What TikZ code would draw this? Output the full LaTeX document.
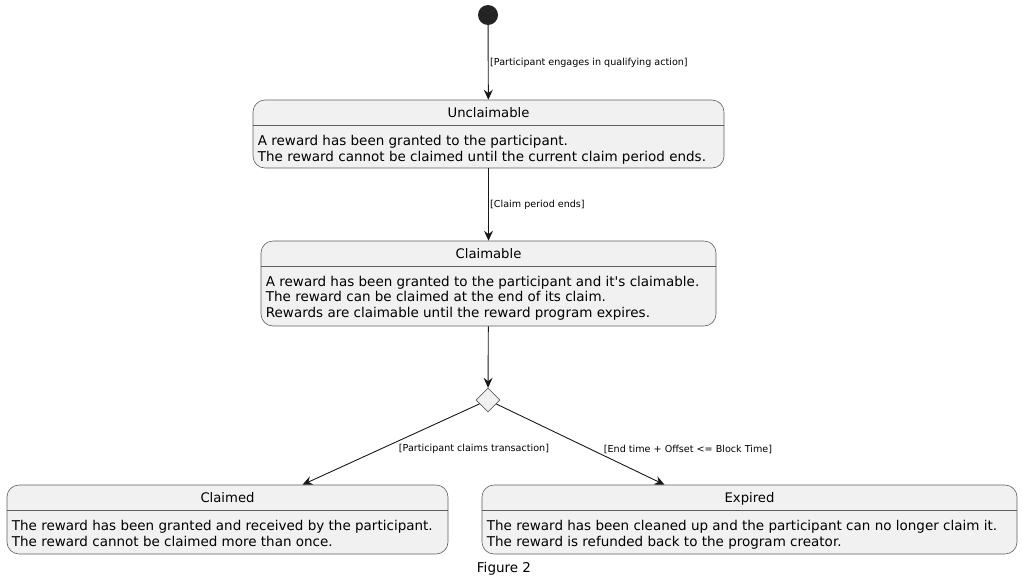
\documentclass[tikz,border=0pt]{standalone}
\usepackage{fontspec}
\setmainfont{DejaVu Sans}
\usetikzlibrary{shapes.geometric,arrows.meta}
\definecolor{statefill}{HTML}{F1F1F1}
\definecolor{stateline}{HTML}{5E5E5E}
\definecolor{arrowline}{HTML}{181818}
\begin{document}
\begin{tikzpicture}
  [x=1pt,y=-1pt,
    state/.style={draw=stateline,fill=statefill,rounded corners=12pt,inner sep=0pt,line width=0.6pt},
    title/.style={font=\fontsize{13.2}{15}\selectfont,anchor=base,inner sep=0pt},
    body/.style={font=\fontsize{13.5}{15.8}\selectfont,anchor=base west,align=left,inner sep=0pt},
    guard/.style={font=\fontsize{9.6}{11}\selectfont,inner sep=0pt},
    trans/.style={draw=arrowline,line width=0.9pt,-{Stealth[length=10pt,width=9pt,inset=3.5pt]}},
  ]
  \useasboundingbox (0,0) rectangle (1022,584);
  % start
  \node[circle,fill=arrowline!95,minimum size=20pt,inner sep=0pt] (start) at (488,15) {};
  % Unclaimable
  \node[state,minimum width=471pt,minimum height=68pt] (unc) at (488.5,134) {};
  \node[title] (unc-t) at ([yshift=-17.5pt]unc.north) {Unclaimable};
  \draw[stateline,line width=0.6pt] ([yshift=-26pt]unc.north west) -- ([yshift=-26pt]unc.north east);
  \node[body] (unc-b) at ([xshift=5pt,yshift=-61.3pt]unc.north west)
    {A reward has been granted to the participant.\\The reward cannot be claimed until the current claim period ends.};
  % Claimable
  \node[state,minimum width=455pt,minimum height=85pt] (cla) at (488.5,283.5) {};
  \node[title] (cla-t) at ([yshift=-17.5pt]cla.north) {Claimable};
  \draw[stateline,line width=0.6pt] ([yshift=-25.5pt]cla.north west) -- ([yshift=-25.5pt]cla.north east);
  \node[body] (cla-b) at ([xshift=5pt,yshift=-77pt]cla.north west)
    {A reward has been granted to the participant and it\textquotesingle s claimable.\\The reward can be claimed at the end of its claim.\\Rewards are claimable until the reward program expires.};
  % choice
  \node[diamond,draw=stateline,fill=statefill,minimum size=24pt,inner sep=0pt,line width=0.6pt] (dec) at (488,400) {};
  % Claimed
  \node[state,minimum width=441pt,minimum height=69pt] (cld) at (227.5,519.5) {};
  \node[title] (cld-t) at ([yshift=-18pt]cld.north) {Claimed};
  \draw[stateline,line width=0.6pt] ([yshift=-26pt]cld.north west) -- ([yshift=-26pt]cld.north east);
  \node[body] (cld-b) at ([xshift=5pt,yshift=-61.3pt]cld.north west)
    {The reward has been granted and received by the participant.\\The reward cannot be claimed more than once.};
  % Expired
  \node[state,minimum width=535pt,minimum height=69pt] (exp) at (749.5,519.5) {};
  \node[title] (exp-t) at ([yshift=-18pt]exp.north) {Expired};
  \draw[stateline,line width=0.6pt] ([yshift=-26pt]exp.north west) -- ([yshift=-26pt]exp.north east);
  \node[body] (exp-b) at ([xshift=5pt,yshift=-61.3pt]exp.north west)
    {The reward has been cleaned up and the participant can no longer claim it.\\The reward is refunded back to the program creator.};
  % transitions
  \draw[trans] (start) -- (unc);
  \node[guard,anchor=west] (g-start) at (490,63) {[Participant engages in qualifying action]};
  \draw[trans] (unc) -- (cla);
  \node[guard,anchor=west] (g-period) at (490,205) {[Claim period ends]};
  \draw[trans] (cla) -- (dec);
  \draw[trans] (dec) -- ([xshift=75pt]cld.north);
  \node[guard] (g-claim) at (474,449) {[Participant claims transaction]};
  \draw[trans] (dec) -- ([xshift=-85pt]exp.north);
  \node[guard] (g-expire) at (688,449) {[End time + Offset <= Block Time]};
  % caption
  \node[font=\fontsize{13.5}{15}\selectfont] (cap) at (504,569) {Figure 2};
\end{tikzpicture}
\end{document}
